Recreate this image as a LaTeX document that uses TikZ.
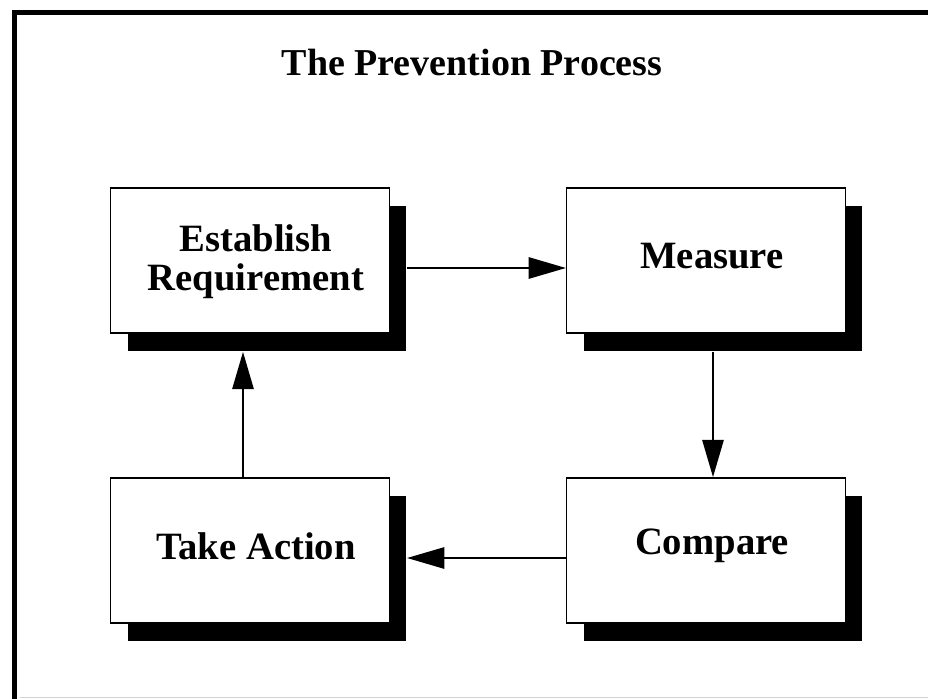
\documentclass[tikz,border=0pt]{standalone}
\usepackage{fontspec}
\setmainfont{Liberation Serif}
\usetikzlibrary{arrows.meta,shadows}
\begin{document}
\begin{tikzpicture}[x=0.75pt,y=-0.75pt,
  stepbox/.style={draw=black, line width=1.1pt, fill=white,
    minimum width=209pt, minimum height=109pt, inner sep=0pt,
    drop shadow={fill=black, opacity=1, shadow xshift=12.75pt, shadow yshift=-13.5pt}},
  boxtext/.style={align=center, inner sep=0pt, xshift=4.5pt, yshift=3.5pt,
    font=\bfseries\fontsize{29}{29}\selectfont},
  arr/.style={line width=1.5pt, -{Triangle[length=28pt,width=16pt]}},
  frame/.style={line width=3.75pt, line cap=rect},
  titletext/.style={font=\bfseries\fontsize{28.5}{30}\selectfont, anchor=base}]
\useasboundingbox (0,0) rectangle (928,699);
\draw[frame] (14.5,699) -- (14.5,13) -- (928,13);
\draw[gray!35, line width=0.6pt] (20,697) -- (928,697);
\node[titletext] (title) at (472,75) {The Prevention Process};
\node[stepbox, label={[boxtext, yshift=-4.5pt]center:Establish\\Requirement}] (er) at (250,260.5) {};
\node[stepbox, label={[boxtext]center:Measure}] (ms) at (706,260.5) {};
\node[stepbox, label={[boxtext]center:Compare}] (cp) at (706,550.5) {};
\node[stepbox, label={[boxtext]center:Take Action}] (ta) at (250,550.5) {};
\draw[arr] ([shift={(17,7.5)}]er.east) -- ([shift={(0,7.5)}]ms.west);
\draw[arr] ([shift={(7,18)}]ms.south) -- ([shift={(7,0)}]cp.north);
\draw[arr] ([shift={(0,7.5)}]cp.west) -- ([shift={(17,7.5)}]ta.east);
\draw[arr] ([shift={(-7,0)}]ta.north) -- ([shift={(-7,18)}]er.south);
\end{tikzpicture}
\end{document}
